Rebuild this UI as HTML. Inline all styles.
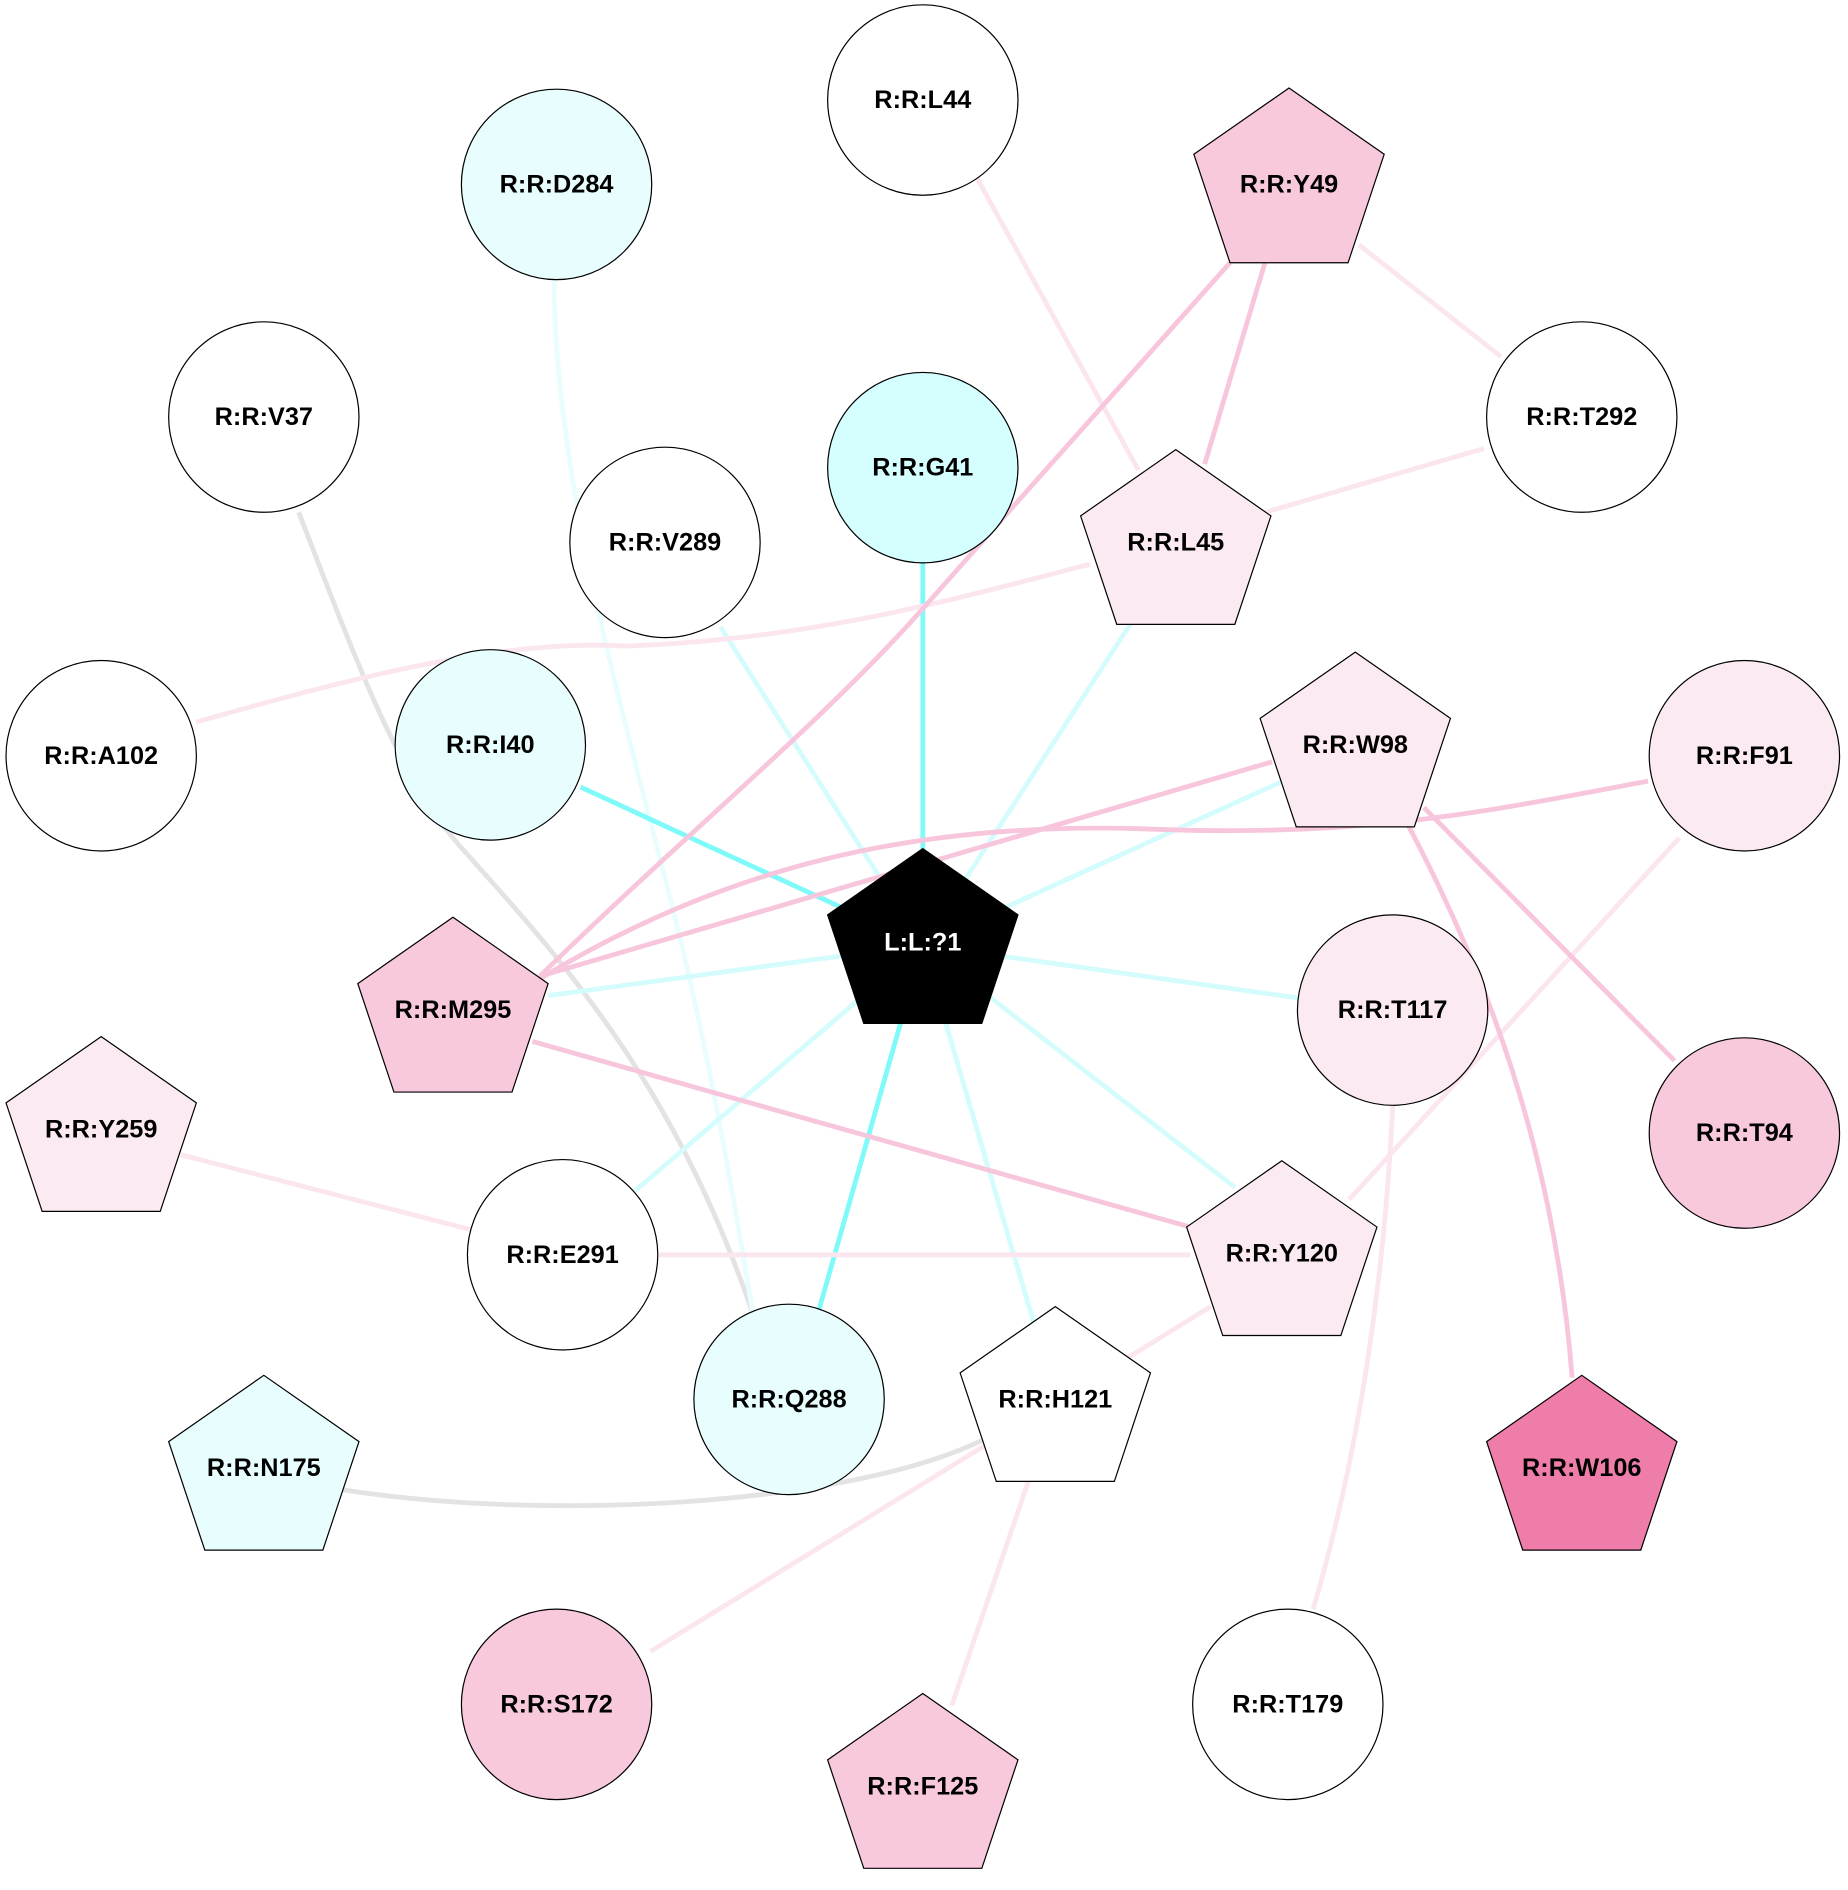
<!DOCTYPE html>
<html><head><meta charset="utf-8"><style>
html,body{margin:0;padding:0;background:#fff;}
svg{display:block;}
text{font-family:"Liberation Sans",Arial,sans-serif;font-weight:bold;font-size:21px;text-anchor:middle;dominant-baseline:central;}
</style></head><body>
<svg width="1848" height="1890" viewBox="0 0 1534 1568" preserveAspectRatio="none" xmlns="http://www.w3.org/2000/svg">
<g fill="none" stroke-width="4">
<path d="M248,425 C300,560 330,640 380,700 C470,800 560,900 625,1090" stroke="#e3e3e3"/>
<path d="M285,1236 C450,1262 700,1250 815,1195" stroke="#e3e3e3"/>
<path d="M460,232 C460,400 520,600 560,760 C590,880 610,1000 625,1090" stroke="#e8fdfd"/>
<g stroke="#d5fcfc">
<line x1="766" y1="784" x2="598" y2="520"/>
<line x1="766" y1="784" x2="940" y2="515"/>
<line x1="766" y1="784" x2="1065" y2="648"/>
<line x1="766" y1="784" x2="455" y2="826"/>
<line x1="766" y1="784" x2="1078" y2="828"/>
<line x1="766" y1="784" x2="527" y2="988"/>
<line x1="766" y1="784" x2="1025" y2="985"/>
<line x1="766" y1="784" x2="858" y2="1097"/>
</g>
<g stroke="#80f9f9">
<line x1="766" y1="784" x2="766" y2="467"/>
<line x1="766" y1="784" x2="482" y2="653"/>
<line x1="766" y1="784" x2="680" y2="1086"/>
</g>
<g stroke="#fbe6ef">
<line x1="810" y1="146" x2="945" y2="390"/>
<line x1="1128" y1="203" x2="1246" y2="296"/>
<line x1="1232" y1="372" x2="1040" y2="428"/>
<path d="M163,599 C300,560 420,530 520,536 C680,530 800,495 905,468"/>
<line x1="1394" y1="695" x2="1120" y2="995"/>
<line x1="150" y1="958" x2="390" y2="1020"/>
<line x1="547" y1="1041" x2="988" y2="1041"/>
<line x1="1005" y1="1084" x2="540" y2="1370"/>
<line x1="855" y1="1225" x2="790" y2="1415"/>
<path d="M1156,917 C1150,1050 1130,1200 1090,1335"/>
</g>
<g stroke="#f8c6dc">
<path d="M1021,218 C930,320 850,410 766,505 S560,700 448,810"/>
<line x1="1050" y1="218" x2="1000" y2="385"/>
<line x1="1056" y1="632" x2="448" y2="810"/>
<path d="M448,812 C600,720 760,680 960,688 C1140,695 1250,670 1368,648"/>
<line x1="442" y1="864" x2="988" y2="1018"/>
<line x1="1182" y1="670" x2="1390" y2="880"/>
<path d="M1168,683 C1230,800 1290,950 1305,1143"/>
</g>
</g>
<g stroke="#000" stroke-width="1">
<circle cx="766" cy="83" r="79" fill="#fff"/>
<circle cx="462" cy="153" r="79" fill="#e8fefe"/>
<circle cx="219" cy="346" r="79" fill="#fff"/>
<circle cx="1313" cy="346" r="79" fill="#fff"/>
<circle cx="766" cy="388" r="79" fill="#d5fefe"/>
<circle cx="552" cy="450" r="79" fill="#fff"/>
<circle cx="84" cy="627" r="79" fill="#fff"/>
<circle cx="407" cy="618" r="79" fill="#e8fefe"/>
<circle cx="1448" cy="627" r="79" fill="#fbeaf2"/>
<circle cx="1156" cy="838" r="79" fill="#fbeaf2"/>
<circle cx="1448" cy="940" r="79" fill="#f8c8dd"/>
<circle cx="467" cy="1041" r="79" fill="#fff"/>
<circle cx="655" cy="1161" r="79" fill="#e8fefe"/>
<circle cx="462" cy="1414" r="79" fill="#f8c8dd"/>
<circle cx="1069" cy="1414" r="79" fill="#fff"/>
</g>
<g stroke="#000" stroke-width="1">
<polygon transform="translate(1070,153)" points="0,-80 79,-25 49,65 -49,65 -79,-25" fill="#f8c8dd"/>
<polygon transform="translate(976,453)" points="0,-80 79,-25 49,65 -49,65 -79,-25" fill="#fbeaf2"/>
<polygon transform="translate(1125,621)" points="0,-80 79,-25 49,65 -49,65 -79,-25" fill="#fbeaf2"/>
<polygon transform="translate(766,784)" points="0,-80 79,-25 49,65 -49,65 -79,-25" fill="#000"/>
<polygon transform="translate(376,841)" points="0,-80 79,-25 49,65 -49,65 -79,-25" fill="#f8c8dd"/>
<polygon transform="translate(84,940)" points="0,-80 79,-25 49,65 -49,65 -79,-25" fill="#fbeaf2"/>
<polygon transform="translate(1064,1043)" points="0,-80 79,-25 49,65 -49,65 -79,-25" fill="#fbeaf2"/>
<polygon transform="translate(876,1164)" points="0,-80 79,-25 49,65 -49,65 -79,-25" fill="#fff"/>
<polygon transform="translate(219,1221)" points="0,-80 79,-25 49,65 -49,65 -79,-25" fill="#e8fefe"/>
<polygon transform="translate(1313,1221)" points="0,-80 79,-25 49,65 -49,65 -79,-25" fill="#ef7daa"/>
<polygon transform="translate(766,1485)" points="0,-80 79,-25 49,65 -49,65 -79,-25" fill="#f8c8dd"/>
</g>
<g>
<text x="766" y="83">R:R:L44</text>
<text x="462" y="153">R:R:D284</text>
<text x="219" y="346">R:R:V37</text>
<text x="1313" y="346">R:R:T292</text>
<text x="766" y="388">R:R:G41</text>
<text x="552" y="450">R:R:V289</text>
<text x="84" y="627">R:R:A102</text>
<text x="407" y="618">R:R:I40</text>
<text x="1448" y="627">R:R:F91</text>
<text x="1156" y="838">R:R:T117</text>
<text x="1448" y="940">R:R:T94</text>
<text x="467" y="1041">R:R:E291</text>
<text x="655" y="1161">R:R:Q288</text>
<text x="462" y="1414">R:R:S172</text>
<text x="1069" y="1414">R:R:T179</text>
<text x="1070" y="153">R:R:Y49</text>
<text x="976" y="450">R:R:L45</text>
<text x="1125" y="618">R:R:W98</text>
<text x="766" y="782" fill="#fff">L:L:?1</text>
<text x="376" y="838">R:R:M295</text>
<text x="84" y="937">R:R:Y259</text>
<text x="1064" y="1040">R:R:Y120</text>
<text x="876" y="1161">R:R:H121</text>
<text x="219" y="1218">R:R:N175</text>
<text x="1313" y="1218">R:R:W106</text>
<text x="766" y="1482">R:R:F125</text>
</g>
</svg>
</body></html>
